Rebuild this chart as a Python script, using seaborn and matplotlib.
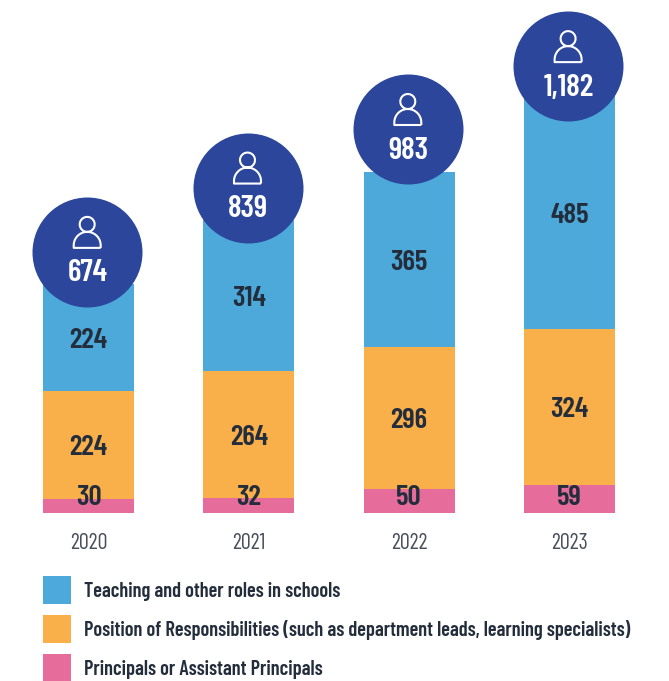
import matplotlib
matplotlib.use("Agg")
import matplotlib.pyplot as plt
from matplotlib.path import Path
from matplotlib.patches import Patch
from matplotlib.transforms import ScaledTranslation
import numpy as np
import seaborn as sns

years = ["2020", "2021", "2022", "2023"]
principals = [30, 32, 50, 59]
responsibility = [224, 264, 296, 324]
teaching = [224, 314, 365, 485]
totals = ["674", "839", "983", "1,182"]
series_names = ["Teaching and other roles in schools",
                "Position of Responsibilities (such as department leads, learning specialists)",
                "Principals or Assistant Principals"]

BLUE, ORANGE, PINK = "#4DA9D9", "#F9B04B", "#E66C9C"
NAVY, INK = "#2C469C", "#232D3B"
FONT = ["Barlow Condensed", "DejaVu Sans"]
W, H = 669, 681
PX = 0.48            # pixels per data unit
STEP = 160.3         # pixels between bars
badge_lift = [66, 68, 89, 63]   # badge centre above stack top, data units

sns.set_theme(style="white")
plt.rcParams["font.family"] = FONT
fig = plt.figure(figsize=(W / 100, H / 100), dpi=100)
ax = fig.add_axes([0, 0, 1, 1])

p = np.array(principals)
r = np.array(responsibility)
t = np.array(teaching)
bar_kw = dict(width=0.568, saturation=1, ax=ax, zorder=2, linewidth=0)
sns.barplot(x=years, y=t, bottom=p + r, color=BLUE, **bar_kw)
sns.barplot(x=years, y=r, bottom=p, color=ORANGE, **bar_kw)
sns.barplot(x=years, y=p, color=PINK, **bar_kw)

ax.set_xlim(-88.5 / STEP, (W - 88.5) / STEP)
ax.set_ylim(-(H - 513) / PX, 513 / PX)
sns.despine(ax=ax, left=True, bottom=True)
ax.set_yticks([])
ax.set_ylabel("")
ax.set_xticks([])

tops = p + r + t
x = np.arange(4)
num = dict(ha="center", va="center", fontsize=21, fontweight=600, color=INK, zorder=3,
           textcoords="offset points")
for i in x:
    ax.annotate(str(teaching[i]), (i, (p + r + t / 2)[i]), xytext=(0, -2), **num)
    ax.annotate(str(responsibility[i]), (i, (p + r / 2)[i]), xytext=(0, -2), **num)
    ax.annotate(str(principals[i]), (i, 0), xytext=(0, 11), **num)
    ax.annotate(years[i], (i, 0), xytext=(0, -22), textcoords="offset points",
                ha="center", va="center", fontsize=16, fontweight="regular", color="#4A505A")

# badges with person icon
by = tops + np.array(badge_lift)
shift = -1.3 * 0.72 / 72
badges = ax.scatter(x, by, s=(110 * 0.72) ** 2, color=NAVY, linewidths=0, zorder=4)
badges.set_offset_transform(ax.transData + ScaledTranslation(shift, 0, fig.dpi_scale_trans))

th = np.linspace(0, 2 * np.pi, 40)
head = np.c_[np.cos(th) * 7.5, np.sin(th) * 7.5 + 8]
dome_t = np.linspace(0, np.pi, 30)
dome = np.c_[np.cos(dome_t) * 13.5, np.sin(dome_t) * 13.5 - 13]
dome = np.vstack([[[13.5, -15.5]], dome, [[-13.5, -15.5]], [[13.5, -15.5]]])
verts = np.vstack([head, dome])
codes = [Path.MOVETO] + [Path.LINETO] * 39 + [Path.MOVETO] + [Path.LINETO] * (len(dome) - 1)
person = Path(verts, codes)
icons = ax.scatter(x, by, s=(31 * 0.72) ** 2, marker=person, facecolors="none", edgecolors="white",
                   linewidths=1.5, zorder=5)
icons.set_offset_transform(ax.transData + ScaledTranslation(shift, 19.5 * 0.72 / 72, fig.dpi_scale_trans))
for i in x:
    ax.annotate(totals[i], (i, by[i]), xytext=(-0.5, -15.5), textcoords="offset points",
                ha="center", va="center", fontsize=22.5, fontweight=600, color="white", zorder=6)

fs = 14.7
handles = [Patch(color=c, linewidth=0) for c in (BLUE, ORANGE, PINK)]
ax.legend(handles, series_names, loc="upper left", bbox_to_anchor=(43 / W, 1 - 576 / H),
          bbox_transform=fig.transFigure, frameon=False, borderpad=0, borderaxespad=0,
          handlelength=28 * 0.72 / fs, handleheight=(28 * 0.72 / fs - 0.245) / 0.65,
          handletextpad=13 * 0.72 / fs, labelspacing=11 * 0.72 / fs, labelcolor=INK,
          prop={"family": FONT, "weight": 600, "size": fs})

fig.savefig("out.png", dpi=100)
